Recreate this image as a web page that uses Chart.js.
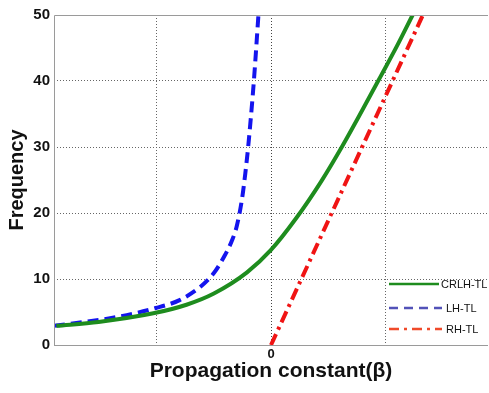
<!DOCTYPE html>
<html>
<head>
<meta charset="utf-8">
<script src="https://cdn.jsdelivr.net/npm/chart.js@4/dist/chart.umd.min.js"></script>
<style>
  html, body { margin: 0; padding: 0; background: #fff; }
  #wrap { width: 489px; height: 393px; }
</style>
</head>
<body>
<div id="wrap"><canvas id="chart" width="489" height="393"></canvas></div>
<script>
// propagation constant (beta) and frequency
var crlhBeta = [-1.88, -1.51, -1.03, -0.74, -0.50, -0.21, 0, 0.22, 0.44, 0.62, 0.80, 0.96, 1.10, 1.24];
var crlhFreq = [2.9, 3.5, 4.8, 6.1, 7.8, 11.0, 14.4, 19.2, 24.8, 30.0, 35.6, 40.7, 45.2, 50];

var lhBeta = [-1.90, -1.36, -1.01, -0.80, -0.62, -0.50, -0.41, -0.34, -0.30, -0.255, -0.225, -0.20, -0.15, -0.11];
var lhFreq = [2.9, 4.2, 5.6, 6.8, 8.8, 10.9, 13.4, 15.9, 18, 22, 26, 30, 40, 50];

var rhBeta = [0, 1.33];
var rhFreq = [0, 50];

var seriesNames = ['CRLH-TL', 'LH-TL', 'RH-TL'];
var xTicks = [-1, 0, 1];
var yTicks = [0, 10, 20, 30, 40, 50];

function toPoints(xs, ys) {
  return xs.map(function(x, i) { return { x: x, y: ys[i] }; });
}

var fontFam = 'Arial, "Liberation Sans", sans-serif';

// legend drawn inside the plot, lower right, like the original
var legendPlugin = {
  id: 'insideLegend',
  afterDraw: function(chart) {
    var ctx = chart.ctx;
    var area = chart.chartArea;
    // frame
    ctx.save();
    ctx.strokeStyle = '#9a9a9a';
    ctx.lineWidth = 1;
    ctx.beginPath();
    ctx.moveTo(area.left + 0.5, area.bottom + 0.5);
    ctx.lineTo(area.left + 0.5, area.top + 0.5);
    ctx.lineTo(area.right, area.top + 0.5);
    ctx.moveTo(area.left, area.bottom + 0.5);
    ctx.lineTo(area.right, area.bottom + 0.5);
    ctx.stroke();

    var rows = [
      { color: '#1e8c1e', dash: [], y: 284, x1: 389, x2: 439, tx: 441 },
      { color: '#5252b8', dash: [9, 6], y: 308, x1: 389, x2: 442, tx: 446 },
      { color: '#f04a2a', dash: [10, 5, 3, 5], y: 329, x1: 389, x2: 442, tx: 446 }
    ];
    ctx.font = '11px ' + fontFam;
    ctx.fillStyle = '#111';
    ctx.textBaseline = 'middle';
    rows.forEach(function(r, i) {
      ctx.strokeStyle = r.color;
      ctx.lineWidth = 2.5;
      ctx.setLineDash(r.dash);
      ctx.beginPath();
      ctx.moveTo(r.x1, r.y);
      ctx.lineTo(r.x2, r.y);
      ctx.stroke();
      ctx.setLineDash([]);
      ctx.fillText(seriesNames[i], r.tx, r.y + 1);
    });
    ctx.restore();
  }
};

var chart = new Chart(document.getElementById('chart'), {
  type: 'scatter',
  data: {
    datasets: [{
      label: seriesNames[0],
      data: toPoints(crlhBeta, crlhFreq),
      showLine: true,
      borderColor: '#1e8c1e',
      borderWidth: 4,
      pointRadius: 0,
      cubicInterpolationMode: 'monotone'
    }, {
      label: seriesNames[1],
      data: toPoints(lhBeta, lhFreq),
      showLine: true,
      borderColor: '#1414ee',
      borderWidth: 4,
      borderDash: [11, 6],
      pointRadius: 0,
      cubicInterpolationMode: 'monotone'
    }, {
      label: seriesNames[2],
      data: toPoints(rhBeta, rhFreq),
      showLine: true,
      borderColor: '#f01414',
      borderWidth: 4,
      borderDash: [12, 5, 3, 5],
      pointRadius: 0
    }]
  },
  options: {
    responsive: false,
    animation: false,
    layout: { padding: { top: 15, right: 1, left: 0, bottom: 0 } },
    plugins: {
      legend: { display: false },
      tooltip: { enabled: false }
    },
    scales: {
      x: {
        type: 'linear',
        min: -1.9,
        max: 1.9,
        afterBuildTicks: function(scale) {
          scale.ticks = xTicks.map(function(v) { return { value: v }; });
        },
        afterFit: function(scale) { scale.height = 48; },
        grid: {
          color: function(c) { return c.tick && c.tick.value === 0 ? '#444' : '#666'; },
          lineWidth: 1,
          drawTicks: false
        },
        border: { display: false, dash: [1, 2] },
        ticks: {
          padding: 2,
          color: '#111',
          font: { family: fontFam, size: 13, weight: 'bold' },
          callback: function(v) { return v === 0 ? '0' : ''; }
        },
        title: {
          display: true,
          text: 'Propagation constant(β)',
          color: '#111',
          padding: { top: 0, bottom: 9 },
          font: { family: fontFam, size: 21, weight: 'bold' }
        }
      },
      y: {
        min: 0,
        max: 50,
        afterBuildTicks: function(scale) {
          scale.ticks = yTicks.map(function(v) { return { value: v }; });
        },
        afterFit: function(scale) { scale.width = 54; },
        grid: {
          color: function(c) { return (c.tick && (c.tick.value === 0 || c.tick.value === 50)) ? 'rgba(0,0,0,0)' : '#666'; },
          lineWidth: 1,
          drawTicks: false
        },
        border: { display: false, dash: [1, 2] },
        ticks: {
          padding: 4,
          color: '#111',
          font: { family: fontFam, size: 15, weight: 'bold' }
        },
        title: {
          display: true,
          text: 'Frequency',
          color: '#111',
          padding: { top: 5, bottom: 0 },
          font: { family: fontFam, size: 20, weight: 'bold' }
        }
      }
    }
  },
  plugins: [legendPlugin]
});
</script>
</body>
</html>
